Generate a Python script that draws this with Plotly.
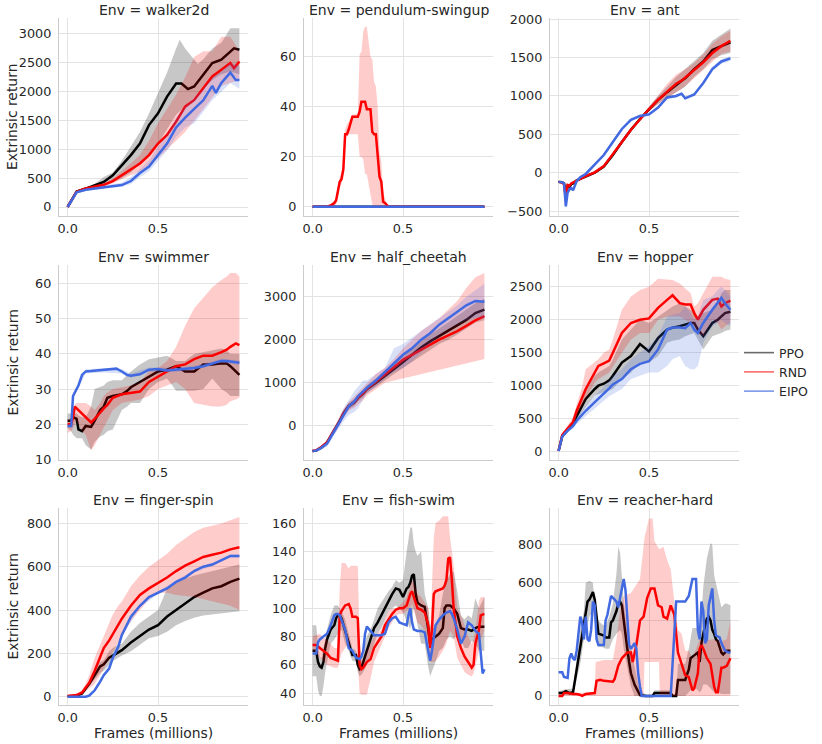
import plotly.graph_objects as go

# ---------------- data ----------------
ENVS = ["walker2d", "pendulum-swingup", "ant", "swimmer", "half_cheetah",
        "hopper", "finger-spin", "fish-swim", "reacher-hard"]
SERIES = ["PPO", "RND", "EIPO"]

# walker2d
walker_ppo = [(0,0),(0.05,270),(0.1,320),(0.15,377),(0.2,435),(0.25,551),(0.3,725),(0.35,900),(0.4,1100),(0.45,1420),(0.5,1625),(0.55,1915),(0.6,2140),(0.63,2140),(0.665,2045),(0.7,2090),(0.75,2292),(0.8,2495),(0.85,2553),(0.9,2700),(0.92,2750),(0.95,2727)]
walker_ppo_band = [(0,0,0),(0.05,260,290),(0.1,310,330),(0.15,340,400),(0.2,380,520),(0.25,430,600),(0.3,500,800),(0.35,600,1050),(0.4,750,1300),(0.45,900,1620),(0.5,1100,1970),(0.55,1350,2330),(0.6,1600,2750),(0.62,1650,2900),(0.65,1750,2750),(0.7,1900,2550),(0.72,1950,2480),(0.75,2050,2560),(0.8,2200,2750),(0.85,2300,2850),(0.9,2350,3100),(0.95,2300,3100)]
walker_rnd = [(0,0),(0.05,265),(0.1,320),(0.15,350),(0.2,385),(0.25,450),(0.3,551),(0.35,667),(0.4,754),(0.45,900),(0.5,1100),(0.55,1250),(0.6,1480),(0.65,1740),(0.7,1857),(0.75,2060),(0.8,2263),(0.85,2380),(0.9,2495),(0.92,2408),(0.95,2524)]
walker_rnd_band = [(0,0,0),(0.05,250,280),(0.1,300,340),(0.15,330,370),(0.2,360,410),(0.25,410,490),(0.3,480,620),(0.35,550,760),(0.4,620,900),(0.45,720,1150),(0.5,850,1450),(0.55,1000,1700),(0.6,1150,1950),(0.65,1300,2250),(0.7,1500,2600),(0.75,1700,2700),(0.8,1900,2700),(0.85,2100,2950),(0.9,2150,2950),(0.95,2200,2700)]
walker_eipo = [(0,0),(0.05,255),(0.1,300),(0.15,320),(0.2,350),(0.25,370),(0.3,380),(0.35,450),(0.4,590),(0.45,700),(0.5,900),(0.55,1100),(0.6,1380),(0.65,1550),(0.7,1700),(0.75,1850),(0.8,2100),(0.82,1980),(0.85,2150),(0.9,2330),(0.93,2200),(0.95,2200)]
walker_eipo_band = [(0,0,0),(0.05,235,275),(0.1,280,320),(0.15,300,340),(0.2,325,375),(0.25,340,400),(0.3,350,420),(0.35,400,520),(0.4,520,660),(0.45,620,800),(0.5,800,1050),(0.55,980,1250),(0.6,1220,1550),(0.65,1380,1750),(0.7,1450,1900),(0.75,1650,2050),(0.8,1850,2250),(0.85,2000,2350),(0.9,2150,2500),(0.95,2050,2450)]

# pendulum-swingup
pend_ppo = [(0,0),(0.95,0)]
pend_rnd = [(0,0),(0.08,0),(0.1,0.5),(0.12,1.5),(0.13,2.5),(0.15,10),(0.16,11),(0.17,15),(0.18,29),(0.19,29),(0.2,31),(0.22,36),(0.24,36),(0.25,36),(0.26,38),(0.27,42),(0.28,42),(0.29,42),(0.3,39),(0.32,39),(0.33,30),(0.34,29),(0.35,29),(0.36,20),(0.37,12),(0.38,10),(0.39,2),(0.4,1.5),(0.41,0.5),(0.42,0),(0.5,0),(0.95,0)]
pend_rnd_band = [(0,0,0),(0.08,0,0),(0.1,0,1),(0.12,0.5,2.5),(0.13,1,4),(0.15,8,12),(0.16,9,14),(0.17,13,17),(0.18,26,31),(0.19,29,33),(0.2,29,34),(0.22,29,37),(0.24,29,37),(0.25,29,37),(0.26,20,61),(0.27,20,62),(0.28,19,70),(0.29,13,72),(0.3,13,72),(0.32,5,60),(0.33,1,59),(0.34,0,50),(0.35,0,48),(0.36,0,40),(0.37,0,22),(0.38,0,18),(0.39,0,6),(0.4,0,3),(0.41,0,1),(0.42,0,0),(0.95,0,0)]
pend_eipo = [(0,0),(0.95,0)]

# ant
ant_ppo = [(0,-120),(0.02,-125),(0.03,-140),(0.04,-300),(0.05,-170),(0.06,-180),(0.07,-150),(0.08,-140),(0.1,-100),(0.12,-80),(0.15,-50),(0.2,0),(0.25,80),(0.3,230),(0.35,400),(0.4,560),(0.45,700),(0.5,830),(0.55,950),(0.6,1050),(0.65,1150),(0.68,1200),(0.7,1230),(0.75,1350),(0.8,1450),(0.85,1600),(0.9,1650),(0.95,1700)]
ant_ppo_band = [(0,-130,-110),(0.02,-135,-115),(0.03,-160,-120),(0.04,-340,-260),(0.05,-190,-150),(0.06,-200,-160),(0.07,-170,-130),(0.08,-155,-125),(0.1,-115,-85),(0.12,-95,-65),(0.15,-65,-35),(0.2,-15,15),(0.25,65,95),(0.3,210,250),(0.35,380,420),(0.4,540,580),(0.45,680,720),(0.5,800,860),(0.55,900,1000),(0.6,980,1120),(0.65,1050,1250),(0.68,1090,1310),(0.7,1120,1350),(0.75,1250,1450),(0.8,1350,1560),(0.85,1480,1720),(0.9,1530,1800),(0.95,1560,1880)]
ant_rnd = [(0,-120),(0.02,-130),(0.03,-150),(0.04,-330),(0.05,-160),(0.06,-170),(0.07,-140),(0.08,-130),(0.1,-100),(0.12,-80),(0.15,-45),(0.2,5),(0.25,85),(0.3,235),(0.35,400),(0.4,560),(0.45,700),(0.5,830),(0.55,950),(0.6,1060),(0.65,1160),(0.68,1200),(0.7,1240),(0.75,1330),(0.8,1440),(0.85,1560),(0.9,1650),(0.95,1720)]
ant_rnd_band = [(0,-130,-110),(0.02,-140,-120),(0.03,-170,-130),(0.04,-360,-300),(0.05,-180,-140),(0.06,-190,-150),(0.07,-160,-120),(0.08,-145,-115),(0.1,-115,-85),(0.12,-95,-65),(0.15,-60,-30),(0.2,-10,20),(0.25,70,100),(0.3,215,255),(0.35,380,420),(0.4,540,580),(0.45,680,720),(0.5,800,860),(0.55,890,1010),(0.6,960,1160),(0.65,1050,1280),(0.68,1090,1320),(0.7,1130,1350),(0.75,1230,1430),(0.8,1340,1540),(0.85,1450,1680),(0.9,1550,1780),(0.95,1580,1850)]
ant_eipo = [(0,-120),(0.02,-125),(0.03,-140),(0.04,-440),(0.05,-260),(0.06,-220),(0.07,-200),(0.08,-230),(0.1,-110),(0.12,-60),(0.15,-17),(0.2,100),(0.25,230),(0.3,400),(0.35,570),(0.4,690),(0.45,740),(0.5,760),(0.55,850),(0.6,980),(0.65,1000),(0.68,1030),(0.7,970),(0.75,1020),(0.8,1170),(0.85,1350),(0.9,1450),(0.95,1490)]
ant_eipo_band = [(0,-130,-110),(0.02,-135,-115),(0.03,-150,-130),(0.04,-460,-420),(0.05,-280,-240),(0.06,-240,-200),(0.07,-220,-180),(0.08,-250,-210),(0.1,-130,-90),(0.12,-80,-40),(0.15,-37,3),(0.2,80,120),(0.25,210,250),(0.3,380,420),(0.35,550,590),(0.4,670,710),(0.45,720,760),(0.5,740,780),(0.55,830,870),(0.6,960,1000),(0.65,980,1020),(0.68,1010,1050),(0.7,950,990),(0.75,1000,1040),(0.8,1150,1190),(0.85,1320,1380),(0.9,1420,1480),(0.95,1460,1520)]

# swimmer
swim_ppo = [(0,21),(0.02,21),(0.03,22),(0.05,21.5),(0.06,18.5),(0.08,18),(0.1,19.5),(0.13,19.2),(0.15,21),(0.18,24),(0.2,25),(0.22,27.5),(0.25,28),(0.3,28.5),(0.33,29.5),(0.35,30.5),(0.4,32),(0.45,33.5),(0.5,35),(0.55,35.5),(0.6,36.5),(0.65,35),(0.7,35),(0.75,37),(0.8,37),(0.85,37.3),(0.88,37.3),(0.9,36.5),(0.93,35),(0.95,34)]
swim_ppo_band = [(0,19,23),(0.02,18,23),(0.03,17,23),(0.05,16,23),(0.06,16,22.5),(0.08,16,22),(0.1,14,22),(0.13,12.8,25),(0.15,15,30),(0.18,16.5,30.5),(0.2,17,31),(0.22,18,32),(0.25,18.5,32.5),(0.3,24,32.5),(0.33,25,34),(0.35,26,35),(0.4,26,37),(0.45,30,38.5),(0.5,32,39),(0.55,33,39.5),(0.6,29.5,38),(0.65,29.5,38),(0.7,29.5,40),(0.75,30,40.5),(0.8,33,41),(0.85,30,41.5),(0.88,29,41),(0.9,28,40),(0.93,28,40),(0.95,28,40)]
swim_rnd = [(0,20),(0.02,20),(0.03,22),(0.04,25),(0.05,24.5),(0.08,23),(0.1,22),(0.13,20.5),(0.15,21.5),(0.18,23.5),(0.2,24.5),(0.22,25.5),(0.25,27.5),(0.3,28.5),(0.33,28.8),(0.35,29),(0.4,29.3),(0.45,32),(0.5,33.5),(0.55,35),(0.6,36.5),(0.65,37),(0.7,38.5),(0.75,39.5),(0.8,39.5),(0.85,40.5),(0.88,41.2),(0.9,42),(0.93,43),(0.95,42.5)]
swim_rnd_band = [(0,17.5,21),(0.02,18,22),(0.03,19,25),(0.05,21,26),(0.06,20,26),(0.08,18,26),(0.1,17,26),(0.13,12.5,25),(0.15,14,24),(0.18,17,26),(0.2,19,28),(0.22,21,29),(0.25,24,30),(0.3,26,30.5),(0.33,26.3,30.8),(0.35,26.5,31),(0.4,27,32),(0.45,28,35),(0.5,30,36),(0.55,31,38),(0.6,32,42),(0.65,30,48),(0.7,26,53),(0.75,25.5,56),(0.8,25,59),(0.85,25,61),(0.88,25.5,62),(0.9,26.5,63),(0.93,27,63),(0.95,27.5,62)]
swim_eipo = [(0,19.5),(0.02,19.5),(0.03,28),(0.05,30),(0.06,31),(0.08,34),(0.1,35),(0.13,35.1),(0.15,35.2),(0.18,35.3),(0.2,35.3),(0.22,35.4),(0.25,35.5),(0.27,35.8),(0.3,35),(0.33,34),(0.35,33.8),(0.4,34.2),(0.45,35.5),(0.5,35.7),(0.55,35.3),(0.6,35.5),(0.65,35.7),(0.7,36),(0.75,36.5),(0.8,37.3),(0.85,38),(0.88,38),(0.9,37.8),(0.93,37.6),(0.95,37.5)]
swim_eipo_band = [(0,19,20),(0.02,19,20),(0.03,27.3,28.7),(0.05,29.4,30.6),(0.1,34.4,35.6),(0.2,34.7,35.9),(0.3,34.4,35.6),(0.35,33.2,34.4),(0.45,34.9,36.1),(0.6,34.9,36.1),(0.7,35.4,36.6),(0.8,36.7,37.9),(0.85,37.4,38.6),(0.95,36.9,38.1)]

# half_cheetah
hc_ppo = [(0,-590),(0.02,-580),(0.05,-500),(0.08,-390),(0.1,-250),(0.13,-50),(0.15,110),(0.17,280),(0.2,460),(0.23,540),(0.25,640),(0.28,750),(0.3,850),(0.35,1000),(0.4,1170),(0.45,1320),(0.5,1480),(0.55,1650),(0.6,1820),(0.65,1960),(0.7,2080),(0.75,2200),(0.8,2330),(0.85,2460),(0.9,2620),(0.95,2700)]
hc_ppo_band = [(0,-610,-570),(0.02,-600,-560),(0.05,-530,-470),(0.08,-430,-350),(0.1,-300,-200),(0.13,-120,20),(0.15,40,180),(0.17,200,350),(0.2,380,540),(0.23,460,620),(0.25,560,720),(0.28,660,840),(0.3,760,940),(0.35,900,1100),(0.4,1050,1290),(0.45,1200,1440),(0.5,1350,1600),(0.55,1500,1800),(0.6,1620,1980),(0.65,1760,2120),(0.7,1900,2250),(0.75,2000,2400),(0.8,2120,2550),(0.85,2250,2700),(0.9,2400,2850),(0.95,2450,2950)]
hc_rnd = [(0,-590),(0.02,-575),(0.05,-490),(0.08,-390),(0.1,-240),(0.13,-40),(0.15,100),(0.17,270),(0.2,450),(0.23,550),(0.25,650),(0.28,760),(0.3,860),(0.35,1020),(0.4,1200),(0.45,1360),(0.5,1530),(0.55,1650),(0.6,1770),(0.65,1900),(0.7,2000),(0.75,2100),(0.8,2200),(0.85,2320),(0.9,2450),(0.95,2550)]
hc_rnd_band = [(0,-620,-560),(0.02,-600,-550),(0.05,-540,-460),(0.08,-440,-340),(0.1,-300,-180),(0.13,-120,50),(0.15,20,200),(0.17,180,380),(0.2,350,550),(0.23,420,680),(0.25,500,780),(0.28,600,900),(0.3,700,1000),(0.35,850,1200),(0.4,1000,1350),(0.45,1050,1550),(0.5,1100,1800),(0.55,1150,2000),(0.6,1200,2200),(0.65,1250,2350),(0.7,1300,2500),(0.75,1350,2700),(0.8,1400,2900),(0.85,1450,3200),(0.9,1500,3450),(0.95,1550,3550)]
hc_eipo = [(0,-590),(0.02,-580),(0.05,-510),(0.08,-420),(0.1,-270),(0.13,-60),(0.15,80),(0.17,250),(0.2,450),(0.23,560),(0.25,680),(0.28,800),(0.3,880),(0.35,1050),(0.4,1250),(0.45,1430),(0.5,1650),(0.55,1800),(0.6,2000),(0.65,2150),(0.7,2350),(0.75,2500),(0.8,2650),(0.85,2800),(0.9,2900),(0.95,2880)]
hc_eipo_band = [(0,-620,-560),(0.02,-610,-550),(0.05,-560,-460),(0.08,-480,-350),(0.1,-350,-150),(0.13,-150,40),(0.15,-30,200),(0.17,100,400),(0.2,250,600),(0.23,320,800),(0.25,400,900),(0.28,600,1050),(0.3,750,1050),(0.35,900,1200),(0.4,1100,1350),(0.45,1250,1800),(0.5,1350,1900),(0.55,1500,2050),(0.6,1700,2200),(0.65,1900,2350),(0.7,2100,2500),(0.75,2250,2650),(0.8,2350,2800),(0.85,2450,3000),(0.9,2500,3150),(0.95,2500,3300)]

# hopper
hop_ppo = [(0,10),(0.02,230),(0.05,330),(0.08,420),(0.1,540),(0.13,700),(0.15,800),(0.2,950),(0.22,1000),(0.25,1030),(0.28,1080),(0.3,1150),(0.35,1350),(0.4,1450),(0.45,1630),(0.5,1520),(0.55,1720),(0.6,1850),(0.63,1880),(0.67,1900),(0.7,1930),(0.73,1950),(0.75,1950),(0.77,1850),(0.8,1750),(0.85,1950),(0.88,2000),(0.9,2050),(0.92,2100),(0.95,2120)]
hop_ppo_band = [(0,5,15),(0.02,210,250),(0.05,290,370),(0.08,370,470),(0.1,450,650),(0.13,600,820),(0.15,680,950),(0.2,850,1150),(0.22,880,1200),(0.25,900,1250),(0.28,930,1300),(0.3,950,1400),(0.35,1100,1700),(0.4,1200,1850),(0.45,1350,2000),(0.5,1350,1950),(0.55,1450,2050),(0.6,1650,2150),(0.63,1680,2200),(0.67,1700,2250),(0.7,1750,2200),(0.73,1780,2150),(0.75,1800,2100),(0.77,1700,2050),(0.8,1550,2100),(0.85,1750,2150),(0.88,1780,2250),(0.9,1800,2400),(0.92,1830,2450),(0.95,1850,2450)]
hop_rnd = [(0,15),(0.02,250),(0.05,350),(0.08,450),(0.1,620),(0.13,820),(0.15,950),(0.2,1200),(0.22,1300),(0.25,1340),(0.28,1380),(0.3,1500),(0.35,1800),(0.4,1950),(0.45,2000),(0.5,2020),(0.55,2180),(0.6,2300),(0.63,2370),(0.67,2250),(0.7,2230),(0.73,2230),(0.75,2100),(0.77,2000),(0.8,2150),(0.85,2300),(0.88,2320),(0.9,2200),(0.92,2250),(0.95,2290)]
hop_rnd_band = [(0,10,20),(0.02,220,280),(0.05,300,400),(0.08,380,520),(0.1,550,720),(0.13,700,980),(0.15,800,1250),(0.2,1050,1350),(0.22,1100,1400),(0.25,1150,1500),(0.28,1200,1550),(0.3,1300,1700),(0.35,1500,2150),(0.4,1700,2350),(0.45,1800,2450),(0.5,1800,2500),(0.55,2000,2620),(0.6,2050,2610),(0.63,2050,2600),(0.67,2050,2550),(0.7,2000,2480),(0.73,1950,2400),(0.75,1900,2200),(0.77,1800,2250),(0.8,1750,2400),(0.85,2000,2650),(0.88,1950,2650),(0.9,1850,2650),(0.92,1900,2620),(0.95,1950,2600)]
hop_eipo = [(0,10),(0.02,230),(0.05,320),(0.08,390),(0.1,470),(0.13,560),(0.15,620),(0.2,750),(0.22,800),(0.25,880),(0.28,960),(0.3,1020),(0.35,1100),(0.4,1250),(0.45,1330),(0.5,1370),(0.55,1550),(0.6,1850),(0.63,1880),(0.67,1880),(0.7,1870),(0.73,1950),(0.75,1850),(0.77,1800),(0.8,1950),(0.85,2150),(0.88,2250),(0.9,2330),(0.92,2250),(0.95,2150)]
hop_eipo_band = [(0,5,15),(0.02,210,250),(0.05,290,350),(0.08,350,430),(0.1,420,520),(0.13,490,630),(0.15,540,700),(0.2,650,850),(0.22,700,900),(0.25,770,980),(0.28,840,1080),(0.3,880,1150),(0.35,950,1250),(0.4,1100,1400),(0.45,1150,1500),(0.5,1200,1600),(0.55,1200,1750),(0.6,1300,2050),(0.63,1400,2080),(0.67,1450,2100),(0.7,1300,2200),(0.73,1250,2100),(0.75,1250,2000),(0.77,1300,2050),(0.8,1650,2300),(0.85,1900,2350),(0.88,1950,2450),(0.9,2000,2500),(0.92,1950,2450),(0.95,1900,2350)]

# finger-spin
fs_ppo = [(0,2),(0.05,5),(0.08,15),(0.1,35),(0.12,60),(0.15,100),(0.18,140),(0.2,150),(0.23,180),(0.25,190),(0.28,205),(0.3,215),(0.35,250),(0.4,280),(0.45,310),(0.5,330),(0.55,370),(0.6,400),(0.65,430),(0.7,460),(0.75,480),(0.8,500),(0.85,510),(0.9,530),(0.95,545)]
fs_ppo_band = [(0,1,3),(0.05,3,8),(0.08,10,20),(0.1,25,45),(0.12,45,75),(0.15,80,120),(0.18,110,160),(0.2,120,170),(0.23,150,210),(0.25,165,225),(0.28,180,240),(0.3,190,245),(0.35,210,300),(0.4,240,340),(0.45,270,370),(0.5,280,400),(0.55,300,500),(0.6,330,530),(0.65,350,545),(0.7,365,560),(0.75,375,570),(0.8,380,580),(0.85,385,590),(0.9,390,600),(0.95,395,610)]
fs_rnd = [(0,3),(0.05,8),(0.08,20),(0.1,45),(0.12,65),(0.15,120),(0.18,180),(0.2,225),(0.23,260),(0.25,290),(0.28,330),(0.3,360),(0.35,420),(0.4,470),(0.45,500),(0.5,525),(0.55,550),(0.6,580),(0.65,605),(0.7,625),(0.75,645),(0.8,655),(0.85,665),(0.9,680),(0.95,690)]
fs_rnd_band = [(0,1,5),(0.05,5,12),(0.08,12,30),(0.1,25,60),(0.12,40,100),(0.15,60,180),(0.18,100,240),(0.2,130,280),(0.23,170,340),(0.25,200,380),(0.28,250,420),(0.3,280,440),(0.35,350,510),(0.4,400,560),(0.45,450,600),(0.5,480,630),(0.55,480,660),(0.6,470,700),(0.65,465,730),(0.7,460,760),(0.75,450,780),(0.8,440,790),(0.85,430,800),(0.9,420,815),(0.95,400,830)]
fs_eipo = [(0,0),(0.05,0),(0.08,0),(0.1,0),(0.12,5),(0.15,30),(0.18,70),(0.2,100),(0.23,130),(0.25,180),(0.28,230),(0.3,285),(0.35,370),(0.4,420),(0.45,460),(0.5,480),(0.55,500),(0.6,530),(0.65,550),(0.7,580),(0.75,600),(0.8,610),(0.85,630),(0.9,650),(0.95,650)]
fs_eipo_band = [(0,0,2),(0.1,0,3),(0.15,25,35),(0.2,94,106),(0.25,173,187),(0.3,278,292),(0.4,413,427),(0.5,473,487),(0.6,523,537),(0.7,573,587),(0.8,603,617),(0.9,643,657),(0.95,643,657)]

# fish-swim
fish_ppo = [(0,70),(0.02,70),(0.03,62),(0.04,59),(0.05,58),(0.06,62),(0.07,72),(0.08,78),(0.1,85),(0.12,88),(0.13,93),(0.14,95),(0.15,95),(0.16,93),(0.18,84),(0.2,75),(0.21,70),(0.22,67),(0.24,67),(0.25,60),(0.26,57),(0.27,58),(0.28,62),(0.29,66),(0.3,70),(0.32,78),(0.34,86),(0.36,90),(0.38,95),(0.4,100),(0.42,106),(0.44,110),(0.46,114),(0.48,113),(0.5,108),(0.52,114),(0.53,115),(0.54,118),(0.55,123),(0.56,124),(0.57,110),(0.58,104),(0.6,102),(0.62,101),(0.64,85),(0.65,75),(0.66,78),(0.67,79),(0.68,80),(0.7,82),(0.72,86),(0.73,100),(0.74,102),(0.76,102),(0.78,100),(0.8,96),(0.82,86),(0.84,85),(0.86,85),(0.88,84),(0.9,86),(0.92,87),(0.95,87)]
fish_ppo_band = [(0,52,88),(0.02,52,88),(0.03,42,75),(0.04,38,65),(0.05,38,65),(0.06,45,72),(0.07,55,80),(0.08,63,85),(0.1,75,95),(0.12,78,102),(0.14,82,102),(0.16,85,98),(0.18,75,92),(0.2,70,82),(0.21,66,76),(0.22,63,72),(0.24,62,70),(0.25,55,65),(0.26,52,62),(0.27,53,64),(0.28,55,72),(0.3,60,80),(0.32,68,85),(0.34,75,92),(0.36,82,100),(0.38,86,104),(0.4,92,108),(0.42,98,112),(0.44,100,115),(0.46,102,120),(0.48,100,118),(0.5,97,120),(0.52,90,140),(0.53,88,150),(0.54,85,157),(0.55,95,157),(0.56,100,145),(0.57,95,140),(0.58,90,137),(0.6,75,140),(0.62,75,110),(0.64,58,100),(0.65,52,88),(0.66,55,85),(0.68,62,88),(0.7,70,95),(0.72,72,110),(0.74,78,120),(0.76,80,124),(0.78,78,126),(0.8,82,112),(0.82,78,95),(0.84,72,92),(0.86,72,95),(0.88,77,93),(0.9,75,107),(0.92,70,100),(0.95,70,108)]
fish_rnd = [(0,74),(0.02,74),(0.04,72),(0.06,70),(0.08,68),(0.1,65),(0.12,64),(0.14,63),(0.15,95),(0.16,98),(0.18,102),(0.2,103),(0.21,100),(0.22,94),(0.24,94),(0.25,93),(0.26,60),(0.27,57),(0.28,58),(0.3,62),(0.32,64),(0.34,72),(0.36,76),(0.38,80),(0.4,88),(0.42,92),(0.44,96),(0.46,99),(0.48,100),(0.5,100),(0.52,102),(0.53,106),(0.54,110),(0.55,112),(0.56,108),(0.57,103),(0.58,100),(0.6,99),(0.62,97),(0.64,88),(0.65,72),(0.66,85),(0.67,110),(0.68,112),(0.7,113),(0.72,114),(0.73,116),(0.74,120),(0.75,135),(0.76,136),(0.77,120),(0.78,100),(0.8,80),(0.82,72),(0.84,66),(0.86,62),(0.88,58),(0.89,60),(0.9,75),(0.92,85),(0.93,95),(0.95,96)]
fish_rnd_band = [(0,70,80),(0.02,68,81),(0.04,65,82),(0.06,63,79),(0.08,60,78),(0.1,59,75),(0.12,58,72),(0.14,58,72),(0.15,62,115),(0.16,68,132),(0.18,72,132),(0.2,75,128),(0.21,74,130),(0.22,72,130),(0.24,68,130),(0.25,62,130),(0.26,40,75),(0.27,39,66),(0.28,39,62),(0.3,39,70),(0.32,50,75),(0.34,62,80),(0.36,68,82),(0.38,74,85),(0.4,80,92),(0.42,86,98),(0.44,90,100),(0.46,95,100),(0.48,96,102),(0.5,96,104),(0.52,98,108),(0.53,99,112),(0.54,100,116),(0.55,103,120),(0.56,98,118),(0.57,94,114),(0.58,90,110),(0.6,88,108),(0.62,84,104),(0.64,76,100),(0.65,62,80),(0.66,62,120),(0.67,62,150),(0.68,63,160),(0.7,66,162),(0.72,70,165),(0.74,75,165),(0.75,80,165),(0.76,84,150),(0.77,82,140),(0.78,80,130),(0.8,65,100),(0.82,60,95),(0.84,55,88),(0.86,53,80),(0.88,52,75),(0.89,54,78),(0.9,58,85),(0.92,70,105),(0.93,78,108),(0.95,84,108)]
fish_eipo = [(0,68),(0.02,68),(0.03,76),(0.04,78),(0.06,80),(0.08,82),(0.1,88),(0.12,95),(0.13,96),(0.14,96),(0.15,95),(0.16,92),(0.18,85),(0.2,72),(0.22,70),(0.24,65),(0.26,64),(0.27,66),(0.28,70),(0.29,82),(0.3,87),(0.32,84),(0.34,81),(0.38,81),(0.4,82),(0.42,90),(0.44,93),(0.46,94),(0.48,90),(0.5,89),(0.52,88),(0.53,95),(0.54,100),(0.55,90),(0.56,85),(0.58,84),(0.6,84),(0.62,83),(0.64,70),(0.65,63),(0.66,70),(0.67,80),(0.68,88),(0.7,92),(0.72,95),(0.74,97),(0.76,98),(0.77,96),(0.78,93),(0.8,85),(0.82,75),(0.84,80),(0.86,90),(0.88,88),(0.9,84),(0.92,82),(0.93,65),(0.94,54),(0.95,57)]

# reacher-hard
reach_ppo = [(0,15),(0.02,15),(0.04,25),(0.06,15),(0.08,20),(0.09,80),(0.1,150),(0.12,270),(0.14,380),(0.15,460),(0.16,500),(0.17,510),(0.19,550),(0.2,510),(0.21,400),(0.22,330),(0.25,320),(0.26,310),(0.28,310),(0.29,390),(0.3,400),(0.32,450),(0.33,490),(0.34,500),(0.35,480),(0.36,400),(0.37,300),(0.38,250),(0.39,180),(0.4,120),(0.42,60),(0.44,20),(0.45,5),(0.48,0),(0.52,0),(0.53,15),(0.62,15),(0.63,0),(0.65,0),(0.66,85),(0.7,85),(0.72,140),(0.73,200),(0.75,215),(0.77,230),(0.78,180),(0.79,280),(0.8,330),(0.82,410),(0.83,420),(0.84,400),(0.85,350),(0.86,330),(0.87,300),(0.88,290),(0.9,230),(0.91,220),(0.93,240),(0.95,240)]
reach_ppo_band = [(0,5,25),(0.04,5,35),(0.08,5,40),(0.1,80,200),(0.12,170,350),(0.14,300,450),(0.15,350,600),(0.17,420,610),(0.19,450,600),(0.2,400,480),(0.22,260,400),(0.24,260,380),(0.26,250,370),(0.28,250,420),(0.3,300,490),(0.32,330,650),(0.33,340,790),(0.34,350,760),(0.35,330,600),(0.36,250,500),(0.38,150,350),(0.4,50,250),(0.42,0,150),(0.44,0,60),(0.46,0,20),(0.5,0,0),(0.52,0,0),(0.53,0,30),(0.62,0,30),(0.63,0,10),(0.65,0,10),(0.66,0,170),(0.7,0,170),(0.72,20,250),(0.74,40,360),(0.76,40,360),(0.78,20,350),(0.79,30,430),(0.8,60,580),(0.82,60,730),(0.84,40,810),(0.85,30,800),(0.86,20,640),(0.88,20,560),(0.9,10,470),(0.92,10,490),(0.93,10,490),(0.95,10,480)]
reach_rnd = [(0,0),(0.02,0),(0.03,15),(0.05,15),(0.08,10),(0.1,10),(0.12,5),(0.13,0),(0.15,10),(0.18,15),(0.2,15),(0.21,80),(0.23,85),(0.25,80),(0.28,75),(0.3,75),(0.31,90),(0.32,120),(0.33,160),(0.35,200),(0.37,220),(0.38,230),(0.4,230),(0.41,180),(0.43,270),(0.45,400),(0.47,420),(0.49,520),(0.51,570),(0.53,570),(0.55,480),(0.57,470),(0.58,420),(0.6,410),(0.62,480),(0.64,430),(0.66,230),(0.68,170),(0.7,110),(0.72,100),(0.73,60),(0.74,30),(0.75,40),(0.77,120),(0.78,250),(0.79,270),(0.8,250),(0.82,200),(0.84,170),(0.85,110),(0.86,50),(0.87,20),(0.88,20),(0.89,80),(0.9,150),(0.91,150),(0.93,160),(0.94,180),(0.95,200)]
reach_rnd_band = [(0,0,0),(0.1,0,15),(0.2,0,20),(0.205,0,180),(0.25,0,190),(0.3,0,190),(0.32,0,300),(0.34,0,450),(0.36,0,530),(0.4,0,545),(0.45,0,620),(0.47,0,800),(0.475,180,840),(0.5,180,940),(0.52,180,940),(0.53,180,820),(0.555,180,780),(0.56,0,780),(0.58,0,790),(0.6,0,720),(0.62,0,670),(0.64,0,500),(0.66,0,350),(0.68,0,330),(0.7,0,240),(0.72,0,240),(0.74,0,200),(0.76,0,250),(0.78,0,300),(0.8,0,290),(0.85,0,300),(0.9,0,290),(0.93,0,300),(0.95,0,400)]
reach_eipo = [(0,125),(0.02,125),(0.03,100),(0.05,95),(0.06,200),(0.07,225),(0.08,200),(0.09,190),(0.1,240),(0.12,420),(0.13,390),(0.14,300),(0.15,420),(0.16,300),(0.17,290),(0.18,350),(0.19,500),(0.2,480),(0.21,300),(0.22,270),(0.25,270),(0.26,400),(0.27,430),(0.29,530),(0.31,510),(0.32,500),(0.33,470),(0.35,570),(0.36,620),(0.37,560),(0.38,400),(0.39,270),(0.4,250),(0.42,280),(0.43,250),(0.44,120),(0.45,50),(0.46,0),(0.62,0),(0.63,150),(0.64,350),(0.65,500),(0.7,500),(0.72,530),(0.74,620),(0.76,620),(0.77,350),(0.78,300),(0.79,500),(0.8,450),(0.81,280),(0.82,300),(0.83,480),(0.85,570),(0.86,400),(0.87,320),(0.89,310),(0.9,280),(0.92,240),(0.94,230),(0.95,230)]

PANEL_DATA = [
    [(walker_ppo, walker_ppo_band), (walker_rnd, walker_rnd_band), (walker_eipo, walker_eipo_band)],
    [(pend_ppo, None), (pend_rnd, pend_rnd_band), (pend_eipo, None)],
    [(ant_ppo, ant_ppo_band), (ant_rnd, ant_rnd_band), (ant_eipo, ant_eipo_band)],
    [(swim_ppo, swim_ppo_band), (swim_rnd, swim_rnd_band), (swim_eipo, swim_eipo_band)],
    [(hc_ppo, hc_ppo_band), (hc_rnd, hc_rnd_band), (hc_eipo, hc_eipo_band)],
    [(hop_ppo, hop_ppo_band), (hop_rnd, hop_rnd_band), (hop_eipo, hop_eipo_band)],
    [(fs_ppo, fs_ppo_band), (fs_rnd, fs_rnd_band), (fs_eipo, fs_eipo_band)],
    [(fish_ppo, fish_ppo_band), (fish_rnd, fish_rnd_band), (fish_eipo, None)],
    [(reach_ppo, reach_ppo_band), (reach_rnd, reach_rnd_band), (reach_eipo, None)],
]

Y_TICKS = [
    [0, 500, 1000, 1500, 2000, 2500, 3000],
    [0, 20, 40, 60],
    [-500, 0, 500, 1000, 1500, 2000],
    [10, 20, 30, 40, 50, 60],
    [0, 1000, 2000, 3000],
    [0, 500, 1000, 1500, 2000, 2500],
    [0, 200, 400, 600, 800],
    [40, 60, 80, 100, 120, 140, 160],
    [0, 200, 400, 600, 800],
]
Y_RANGES = [
    [-156, 3277], [-3.7, 75.5], [-565, 2017],
    [9.8, 65.3], [-798, 3737], [-126, 2829],
    [-38, 871], [31.7, 170.8], [-48, 996],
]
X_TICKS = [0, 0.5]
X_TICKTEXT = ["0.0", "0.5"]
X_RANGE = [-0.0475, 0.9975]

# ---------------- styling ----------------
W, H = 822, 744
FONT = "DejaVu Sans"
TXT = "#262626"
LINE_COLORS = {"PPO": "#000000", "RND": "#ff0000", "EIPO": "#4169e1"}
BAND_COLORS = {"PPO": "rgba(0,0,0,0.22)", "RND": "rgba(255,0,0,0.2)", "EIPO": "rgba(65,105,225,0.2)"}
LEGEND_COLORS = {"PPO": "#6b6b6b", "RND": "#ff6b6b", "EIPO": "#7b96ea"}

COL_PX = [(59, 248), (304, 493), (550, 739)]
ROW_PX = [(18, 216), (265, 460), (508, 705)]

fig = go.Figure()

for k in range(9):
    r, c = divmod(k, 3)
    ax = "" if k == 0 else str(k + 1)
    xref, yref = "x" + ax, "y" + ax
    for s, (mean, band) in zip(SERIES, PANEL_DATA[k]):
        if band is not None:
            bx = [p[0] for p in band]
            blo = [p[1] for p in band]
            bhi = [p[2] for p in band]
            fig.add_trace(go.Scatter(
                x=bx + bx[::-1], y=bhi + blo[::-1], xaxis=xref, yaxis=yref,
                fill="toself", fillcolor=BAND_COLORS[s], mode="lines",
                line=dict(width=0), hoverinfo="skip", showlegend=False))
        fig.add_trace(go.Scatter(
            x=[p[0] for p in mean], y=[p[1] for p in mean], xaxis=xref, yaxis=yref,
            mode="lines", line=dict(color=LINE_COLORS[s], width=2.5),
            name=s, showlegend=False))

    x0, x1 = COL_PX[c]
    y0, y1 = ROW_PX[r]
    common = dict(showline=True, linecolor="#cccccc", linewidth=1.2,
                  showgrid=True, gridcolor="#e3e3e3", gridwidth=1,
                  zeroline=False, ticks="outside",
                  tickcolor="rgba(0,0,0,0)", automargin=False,
                  tickfont=dict(family=FONT, size=12.8, color=TXT))
    fig.layout["xaxis" + ax] = dict(
        domain=[x0 / W, x1 / W], anchor=yref, range=X_RANGE, ticklen=1,
        tickvals=X_TICKS, ticktext=X_TICKTEXT, **common)
    fig.layout["yaxis" + ax] = dict(
        domain=[1 - y1 / H, 1 - y0 / H], anchor=xref, range=Y_RANGES[k], ticklen=4,
        tickvals=Y_TICKS[k], **common)

    # panel title
    fig.add_annotation(x=(x0 + x1) / 2 / W, y=1 - (y0 - 8) / H, xref="paper", yref="paper",
                       text="Env = " + ENVS[k], showarrow=False,
                       font=dict(family=FONT, size=14, color=TXT),
                       xanchor="center", yanchor="middle")

# axis labels
for r in range(3):
    y0, y1 = ROW_PX[r]
    fig.add_annotation(x=12 / W, y=1 - (y0 + y1) / 2 / H, xref="paper", yref="paper",
                       text="Extrinsic return", textangle=-90, showarrow=False,
                       font=dict(family=FONT, size=13.9, color=TXT),
                       xanchor="center", yanchor="middle")
for c in range(3):
    x0, x1 = COL_PX[c]
    fig.add_annotation(x=(x0 + x1) / 2 / W, y=1 - 733 / H, xref="paper", yref="paper",
                       text="Frames (millions)", showarrow=False,
                       font=dict(family=FONT, size=13.9, color=TXT),
                       xanchor="center", yanchor="middle")

# legend-only traces
for s in SERIES:
    fig.add_trace(go.Scatter(x=[None], y=[None], mode="lines", name=s,
                             line=dict(color=LEGEND_COLORS[s], width=1.6),
                             showlegend=True))

fig.update_layout(
    width=W, height=H, margin=dict(l=0, r=0, t=0, b=0, pad=0, autoexpand=False),
    paper_bgcolor="white", plot_bgcolor="white",
    font=dict(family=FONT, color=TXT),
    showlegend=True,
    legend=dict(x=739 / W, y=1 - 338 / H, xanchor="left", yanchor="top",
                font=dict(family=FONT, size=12.5, color=TXT),
                bgcolor="rgba(0,0,0,0)", tracegroupgap=0),
)

fig.write_html("out.html", config={"displayModeBar": False},
               post_script="document.body.style.margin='0px';document.body.style.overflow='hidden';")
